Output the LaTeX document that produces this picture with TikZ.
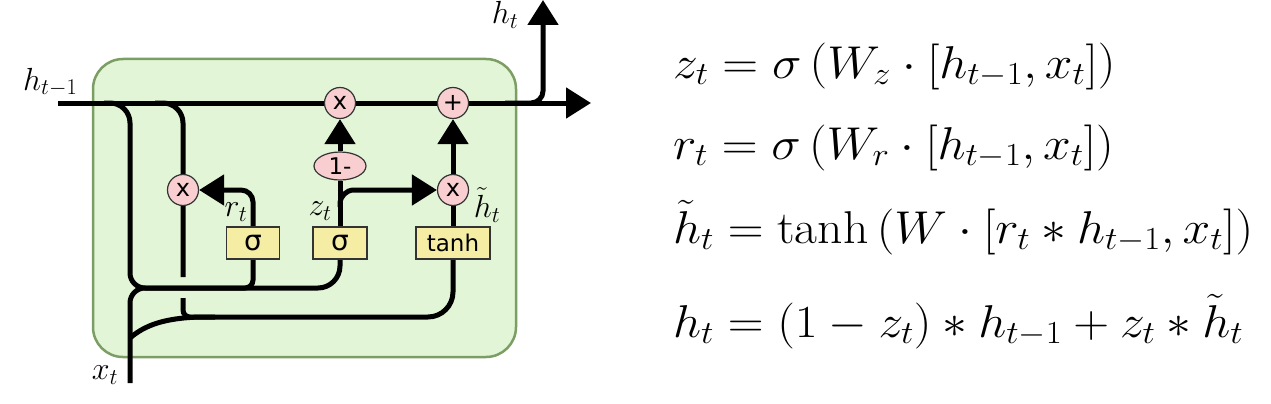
\RequirePackage{fix-cm}
\documentclass[tikz,border=0pt]{standalone}
\usepackage{fontspec}
\usetikzlibrary{arrows.meta,shapes.geometric}
\newfontfamily\dv{DejaVu Sans}
\definecolor{boxfill}{RGB}{226,245,214}
\definecolor{boxline}{RGB}{124,158,100}
\definecolor{pinkc}{RGB}{248,206,208}
\definecolor{yellc}{RGB}{246,237,164}
\pgfdeclarelayer{back}
\pgfdeclarelayer{wires}
\pgfsetlayers{back,wires,main}
\tikzset{
  wire/.style={line width=5pt, draw=black},
  arr/.style={-{Triangle[length=25pt,width=30pt]}},
  circ/.style={circle, draw=black!80, fill=pinkc, line width=1.2pt, minimum size=31pt, inner sep=0pt, font=\dv\fontsize{24}{24}\selectfont},
  ell/.style={ellipse, draw=black!80, fill=pinkc, line width=1.2pt, minimum width=52pt, minimum height=28pt, inner sep=0pt, font=\dv\fontsize{23}{23}\selectfont},
  gate/.style={rectangle, draw=black!80, fill=yellc, line width=1.2pt, minimum height=32pt, inner sep=0pt},
  lbl/.style={inner sep=0pt, font=\fontsize{32}{36}\selectfont},
  eq/.style={inner sep=0pt, anchor=base west, font=\fontsize{46}{54}\selectfont}
}
\newcommand{\eqbox}[1]{\scalebox{1.08}[1]{#1}}
\begin{document}
\begin{tikzpicture}[x=1pt,y=-1pt]
\useasboundingbox (0,0) rectangle (1271,404);
% nodes
\node[circ] (mulA) at (340,103) {x};
\node[circ] (plusB) at (453,103) {+};
\node[circ] (mulR) at (183,190) {x};
\node[circ] (mulZ) at (453,190) {x};
\node[ell] (onem) at (340,166) {1-};
\node[gate, minimum width=53pt, font=\dv\fontsize{28}{28}\selectfont] (sigR) at (253,243) {σ};
\node[gate, minimum width=54pt, font=\dv\fontsize{28}{28}\selectfont] (sigZ) at (340,243) {σ};
\node[gate, minimum width=74pt, font=\dv\fontsize{23}{23}\selectfont] (tanhB) at (453,243) {tanh};
% labels
\node[lbl, anchor=base west] (lhin) at (23,90) {$h_{t-1}$};
\node[lbl] (lhout) at (505,15) {$h_t$};
\node[lbl] (lr) at (236,212) {$r_t$};
\node[lbl] (lz) at (320,211) {$z_t$};
\node[lbl] (lht) at (487,205) {$\tilde{h}_t$};
\node[lbl] (lx) at (105,375) {$x_t$};
% coordinates
\coordinate (hin) at (58,103);
\coordinate (hout) at (591,103);
\coordinate (hb) at (505,103);
\coordinate (htop) at (543,0);
\coordinate (xin) at (130,383);
\coordinate (aStart) at (104,103);
\coordinate (aCorner) at (130,103);
\coordinate (bStart) at (155,103);
\coordinate (bCorner) at (183,103);
\coordinate (bGapTop) at (183,277);
\coordinate (bGapBot) at (183,298);
\coordinate (bEnd) at (215,317);
\coordinate (xMid) at (130,288);
\coordinate (hz) at (220,288);
\coordinate (xBr) at (130,338);
\coordinate (lowL) at (200,317);
\coordinate (zb) at (340,207);
% box
\begin{pgfonlayer}{back}
\draw[draw=boxline, fill=boxfill, line width=2.5pt, rounded corners=30pt] (93,59) rectangle (516,357);
\end{pgfonlayer}
% wires
\begin{pgfonlayer}{wires}
\draw[wire, arr] (hin) -- (hout);
\draw[wire, arr, rounded corners=12pt] (hb) -| (htop);
\draw[wire] (aStart) [rounded corners=20pt] -- (aCorner) [rounded corners=15pt] -- (xMid) [rounded corners=22pt] -| (sigZ.south);
\draw[wire, rounded corners=15pt] (xin) -- (xMid) -- (hz);
\draw[wire, rounded corners=8pt] (sigR.south) |- (hz);
\draw[wire, rounded corners=20pt] (bStart) -- (bCorner) -- (bGapTop);
\draw[wire, rounded corners=7pt] (bGapBot) |- (bEnd);
\draw[wire] (xBr) .. controls (145,325) and (165,318) .. (lowL) [rounded corners=25pt] -| (tanhB.south);
\draw[wire, arr, rounded corners=12pt] (sigR.north) |- (mulR.east);
\draw[wire] (sigZ.north) -- (onem.south);
\draw[wire, arr] (onem.north) -- (mulA.south);
\draw[wire, arr, rounded corners=14pt] (zb) |- (mulZ.west);
\draw[wire] (tanhB.north) -- (mulZ.south);
\draw[wire, arr] (mulZ.north) -- (plusB.south);
\end{pgfonlayer}
% equations
\node[eq] (e1) at (673,78) {\eqbox{$z_t=\sigma\left(W_z\cdot[h_{t-1},x_t]\right)$}};
\node[eq] (e2) at (673,159) {\eqbox{$r_t=\sigma\left(W_r\cdot[h_{t-1},x_t]\right)$}};
\node[eq] (e3) at (673,243) {\eqbox{$\tilde{h}_t=\tanh\left(W\cdot[r_t*h_{t-1},x_t]\right)$}};
\node[eq] (e4) at (673,337) {\eqbox{$h_t=(1-z_t)*h_{t-1}+z_t*\tilde{h}_t$}};
\end{tikzpicture}
\end{document}
